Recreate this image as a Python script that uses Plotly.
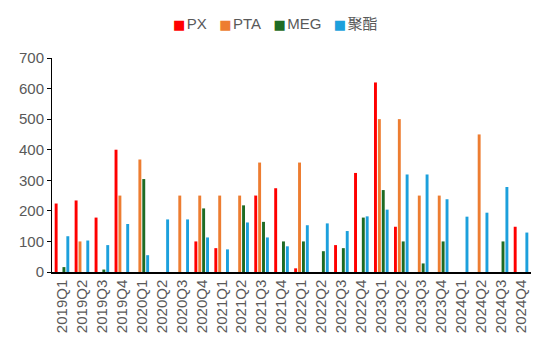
import plotly.graph_objects as go

categories = ["2019Q1","2019Q2","2019Q3","2019Q4","2020Q1","2020Q2","2020Q3","2020Q4",
              "2021Q1","2021Q2","2021Q3","2021Q4","2022Q1","2022Q2","2022Q3","2022Q4",
              "2023Q1","2023Q2","2023Q3","2023Q4","2024Q1","2024Q2","2024Q3","2024Q4"]

px_vals  = [224, 234, 178, 400, 0, 0, 0, 100, 78, 0, 250, 274, 12, 0, 88, 324,
            620, 148, 0, 0, 0, 0, 0, 148]
pta_vals = [0, 100, 0, 250, 368, 0, 250, 250, 250, 250, 358, 0, 358, 0, 0, 0,
            500, 500, 250, 250, 0, 450, 0, 0]
meg_vals = [16, 0, 8, 0, 304, 0, 0, 208, 0, 218, 164, 100, 100, 68, 78, 178,
            268, 100, 28, 100, 0, 0, 100, 0]
pet_vals = [117, 103, 88, 157, 55, 172, 172, 113, 74, 162, 113, 84, 153, 159, 134, 182,
            204, 319, 319, 238, 181, 194, 278, 129]

series_names = ["PX", "PTA", "MEG", "聚酯"]
colors = ["#FF0000", "#ED7D31", "#1E6B24", "#1CA0DC"]

FONT = "Arial, Liberation Sans, Noto Sans CJK SC, sans-serif"

fig = go.Figure()
for name, vals, c in zip(series_names, [px_vals, pta_vals, meg_vals, pet_vals], colors):
    fig.add_trace(go.Bar(x=categories, y=vals, name=name, showlegend=False,
                         marker=dict(color=c, line=dict(width=0))))

# legend drawn as a single line of text with coloured squares
legend_text = "&nbsp;&nbsp;&nbsp;".join(
    f"<span style='color:{c};font-family:DejaVu Sans;font-size:13px'>■</span>"
    f"<span style='font-size:5px'>&nbsp;</span>{n}"
    for n, c in zip(series_names, colors))
fig.add_annotation(text=legend_text, xref="paper", yref="paper", x=0.466, y=1.16,
                   xanchor="center", yanchor="middle", showarrow=False,
                   font=dict(family=FONT, size=15, color="#595959"))

fig.update_layout(
    width=550, height=350,
    margin=dict(l=52, r=19, t=58, b=78),
    plot_bgcolor="white", paper_bgcolor="white",
    barmode="group", bargap=0.22, bargroupgap=0.25,
    font=dict(family=FONT, size=15, color="#595959"),
    showlegend=False,
)
fig.update_xaxes(type="category", tickangle=-90, showline=True, linecolor="black", linewidth=1.5,
                 ticks="", showgrid=False, tickfont=dict(size=15, color="#595959"))
fig.update_yaxes(range=[0, 700], dtick=100, showline=True, linecolor="black", linewidth=1,
                 ticks="outside", ticklen=4, tickcolor="black", showgrid=False, zeroline=False,
                 tickfont=dict(size=15, color="#595959"))

fig.write_html("out.html")
